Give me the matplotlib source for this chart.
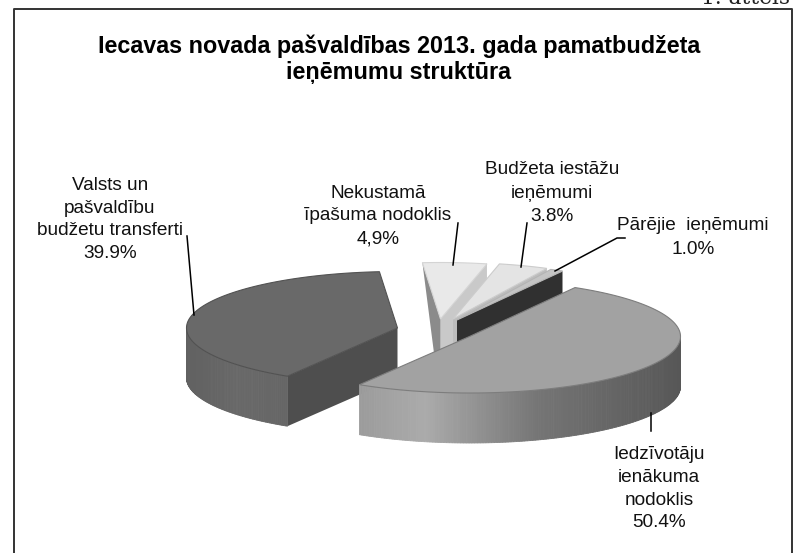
import numpy as np
import matplotlib
matplotlib.use("Agg")
import matplotlib.pyplot as plt
from matplotlib.patches import Polygon

# ---- data ----
categories = ["Iedzīvotāju\nienākuma\nnodoklis", "Valsts un\npašvaldību\nbudžetu transferti",
              "Nekustamā\nīpašuma nodoklis", "Budžeta iestāžu\nieņēmumi", "Pārējie  ieņēmumi"]
shares = [50.4, 39.9, 4.9, 3.8, 1.0]
share_labels = ["50.4%", "39.9%", "4,9%", "3.8%", "1.0%"]
title_lines = ["Iecavas novada pašvaldības 2013. gada pamatbudžeta", "ieņēmumu struktūra"]
corner_text = "1. attēls"

# ---- style / layout (pixel space) ----
W, H = 796, 553
START = 60.0          # degrees, slices run clockwise
A, B, DEPTH = 211.0, 56.5, 50.0
apex = [(469.5, 336.5), (397.5, 328), (440.5, 319), (453, 319), (457, 320)]
top_col = ["#a2a2a2", "#696969", "#e9e9e9", "#e4e4e4", "#c4c4c4"]
top_edge = ["#7d7d7d", "#525252", "#d4d4d4", "#cccccc", "#b4b4b4"]
rad_col = [None, "#4e4e4e", "#c9c9c9", "#bdbdbd", "#303030"]
left_col = [None, None, "#8b8b8b", None, None]
label_xy = [(659, 459), (110, 190), (378, 198), (552, 174), (693, 230)]
line_gap = [22.8, 22.7, 22.5, 23.5, 24]
leaders = [[(650.5, 413), (650.5, 431)], [(187, 236), (194, 315)], [(458, 223), (453, 265)],
           [(527, 223), (521, 267)], [(625, 238), (617, 238), (555, 271)]]
draw_order = [1, 2, 3, 4, 0]

plt.rcParams["font.family"] = ["Liberation Sans", "DejaVu Sans"]

fig = plt.figure(figsize=(W / 100, H / 100), dpi=100)
ax = fig.add_axes([0, 0, 1, 1])
ax.set_xlim(0, W)
ax.set_ylim(H, 0)
ax.axis("off")

# slice angles from the values
sweeps = [s / sum(shares) * 360 for s in shares]
ends = START - np.cumsum(sweeps)
starts = ends + np.array(sweeps)


def pt(c, t):
    return (c[0] + A * np.cos(np.radians(t)), c[1] - B * np.sin(np.radians(t)))


def arc_pts(c, t0, t1, n=120):
    return [pt(c, t) for t in np.linspace(t0, t1, n)]


def down(p, d=DEPTH):
    return (p[0], p[1] + d)


def side_shade(i, x):
    if i == 0:
        f = np.clip((x - 361) / (682 - 361), 0, 1)
        return str(float(np.interp(f, [0, 0.2, 0.55, 1.0], [0.61, 0.67, 0.46, 0.34])))
    return str(float(np.interp(x, [184, 240, 289], [0.38, 0.41, 0.40])))


for i in draw_order:
    c = apex[i]
    t0, t1 = starts[i], ends[i]
    z = 2 + draw_order.index(i) * 2
    p0, p1 = pt(c, t0), pt(c, t1)
    if i == 1:
        # big dark slice: the wall below the counter-clockwise edge faces the viewer
        t_near = t0 if t0 > 180 else t0 + 360
        pn = pt(c, t_near)
        ax.add_patch(Polygon([c, pn, down(pn), down(c)], fc=rad_col[i], ec="none", zorder=z))
        ts = np.linspace(180, t_near, 90)
    elif i == 0:
        ts = np.linspace(t1, 0, 160)
    else:
        ts = []
        ax.add_patch(Polygon([c, p1, down(p1), down(c)], fc=rad_col[i], ec="none", zorder=z))
        if left_col[i]:
            low = (p0[0] + 0.68 * (c[0] - p0[0]), p0[1] + 96)
            ax.add_patch(Polygon([c, p0, low, down(c)], fc=left_col[i], ec="none", zorder=z))
    # outer wall, drawn as strips for the gradient
    for a, b in zip(ts[:-1], ts[1:]):
        q0, q1 = pt(c, a), pt(c, b)
        col = side_shade(i, 0.5 * (q0[0] + q1[0]))
        ax.add_patch(Polygon([q0, q1, down(q1), down(q0)], fc=col, ec=col, lw=0.6, zorder=z))
    # top face
    ax.add_patch(Polygon([c] + arc_pts(c, t0, t1), fc=top_col[i], ec=top_edge[i], lw=0.8, zorder=z + 1))

# frame
ax.plot([13.5, 13.5, 792, 792], [H, 9, 9, H], color="#333333", lw=1.4, zorder=20, clip_on=False)

# title and corner text
for y, s in zip([53, 79], title_lines):
    ax.text(399, y, s, ha="center", va="baseline", fontsize=16.8, fontweight="bold",
            color="black", zorder=30)
ax.text(790, 4, corner_text, ha="right", va="baseline", fontsize=15.6, family="DejaVu Serif",
        color="#222222", zorder=30)

# labels and leader lines
for name, share, (x, y), gap, pts in zip(categories, share_labels, label_xy, line_gap, leaders):
    lines = name.split("\n") + [share]
    for k, s in enumerate(lines):
        ax.text(x, y + k * gap, s, ha="center", va="baseline", fontsize=13.7, color="#111111", zorder=30)
    ax.plot([p[0] for p in pts], [p[1] for p in pts], color="black", lw=1.1, zorder=25)

fig.savefig("out.png", dpi=100, facecolor="white")
